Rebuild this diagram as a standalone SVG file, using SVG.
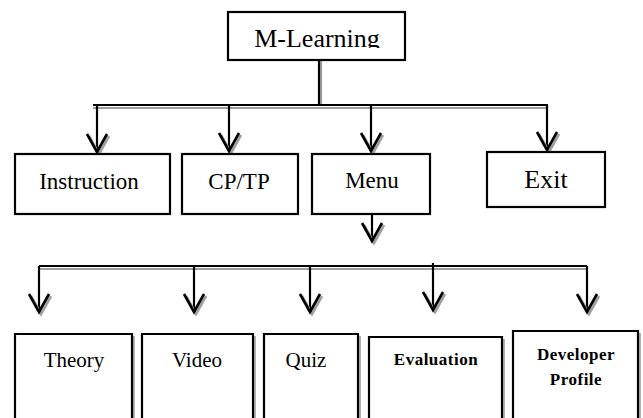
<svg xmlns="http://www.w3.org/2000/svg" xmlns:xlink="http://www.w3.org/1999/xlink" width="643" height="418" viewBox="0 0 643 418">
<style>
.box{fill:#fff;stroke:#000;stroke-width:2.2}
.obox{fill:none;stroke:#000;stroke-width:2.2}
.bsh{fill:none;stroke:#999;stroke-width:1.5}
.ln{fill:none;stroke:#000;stroke-width:2.2}
.sh{fill:none;stroke:#a0a0a0;stroke-width:2.2}
.ar{fill:none;stroke:#000;stroke-width:2.6;stroke-linejoin:miter}
.arsh{fill:none;stroke:#a0a0a0;stroke-width:2.6}
.t{font-family:"Liberation Serif","Times New Roman",serif;fill:#000;text-anchor:middle}
.tb{font-family:"Liberation Serif","Times New Roman",serif;fill:#000;text-anchor:middle;font-weight:bold}
</style>
<defs>
<g id="ah">
<path class="arsh" d="M-10,-18 L0,0 L10,-18" transform="translate(2,2)"/>
<path class="ar" d="M-10,-18 L0,0 L10,-18"/>
</g>
<clipPath id="mlclip"><rect x="228" y="12" width="177" height="36"/></clipPath>
</defs>
<rect width="643" height="418" fill="#fff"/>

<g id="connectors">
<!-- top level -->
<line class="sh" x1="321" y1="60" x2="321" y2="106"/>
<line class="ln" x1="319" y1="60" x2="319" y2="106"/>
<line class="sh" x1="93" y1="108" x2="548" y2="108"/>
<line class="ln" x1="93" y1="105" x2="548" y2="105"/>
<line class="ln" x1="97" y1="105" x2="97" y2="152"/>
<use xlink:href="#ah" x="97" y="152"/>
<line class="ln" x1="229" y1="105" x2="229" y2="151"/>
<use xlink:href="#ah" x="229" y="151"/>
<line class="ln" x1="371" y1="105" x2="371" y2="151"/>
<use xlink:href="#ah" x="371" y="151"/>
<line class="ln" x1="547" y1="105" x2="547" y2="150"/>
<use xlink:href="#ah" x="547" y="150"/>
<!-- menu down -->
<line class="ln" x1="372" y1="214" x2="372" y2="241"/>
<use xlink:href="#ah" x="372" y="241"/>
<!-- second level -->
<line class="sh" x1="39" y1="269" x2="587" y2="269"/>
<line class="ln" x1="39" y1="266" x2="587" y2="266"/>
<line class="ln" x1="39" y1="266" x2="39" y2="312"/>
<use xlink:href="#ah" x="39" y="312"/>
<line class="ln" x1="194" y1="266" x2="194" y2="312"/>
<use xlink:href="#ah" x="194" y="312"/>
<line class="ln" x1="310" y1="266" x2="310" y2="312"/>
<use xlink:href="#ah" x="310" y="312"/>
<line class="ln" x1="433" y1="263" x2="433" y2="310"/>
<use xlink:href="#ah" x="433" y="310"/>
<line class="ln" x1="587" y1="266" x2="587" y2="312"/>
<use xlink:href="#ah" x="587" y="312"/>
</g>

<g id="node-mlearning">
<rect class="box" x="228" y="12" width="177" height="48"/>
<text class="t" x="317" y="47" font-size="26" clip-path="url(#mlclip)">M-Learning</text>
</g>

<g id="node-instruction">
<rect class="box" x="15" y="154" width="155" height="60"/>
<text class="t" x="89" y="189" font-size="23">Instruction</text>
</g>
<g id="node-cptp">
<rect class="box" x="182" y="154" width="116" height="60"/>
<text class="t" x="239" y="189" font-size="23">CP/TP</text>
</g>
<g id="node-menu">
<rect class="box" x="312" y="154" width="118" height="60"/>
<text class="t" x="372" y="188" font-size="23">Menu</text>
</g>
<g id="node-exit">
<rect class="box" x="487" y="152" width="118" height="55"/>
<text class="t" x="546" y="188" font-size="26">Exit</text>
</g>

<g id="node-theory">
<line class="bsh" x1="134" y1="336" x2="134" y2="418"/>
<path class="obox" d="M15,418 V334 H132 V418"/>
<text class="t" x="74" y="367" font-size="21">Theory</text>
</g>
<g id="node-video">
<line class="bsh" x1="255" y1="336" x2="255" y2="418"/>
<path class="obox" d="M142,418 V334 H253 V418"/>
<text class="t" x="197" y="367" font-size="21">Video</text>
</g>
<g id="node-quiz">
<line class="bsh" x1="360" y1="336" x2="360" y2="418"/>
<path class="obox" d="M264,418 V334 H358 V418"/>
<text class="t" x="306" y="367" font-size="21">Quiz</text>
</g>
<g id="node-evaluation">
<line class="bsh" x1="504" y1="339" x2="504" y2="418"/>
<path class="obox" d="M369,418 V337 H502 V418"/>
<text class="tb" x="436" y="365" font-size="17" letter-spacing="0.5">Evaluation</text>
</g>
<g id="node-developer">
<line class="bsh" x1="640" y1="333" x2="640" y2="418"/>
<path class="obox" d="M513,418 V331 H638 V418"/>
<text class="tb" x="576" y="360" font-size="17" letter-spacing="0.5">Developer</text>
<text class="tb" x="576" y="385" font-size="17" letter-spacing="0.5">Profile</text>
</g>
</svg>
